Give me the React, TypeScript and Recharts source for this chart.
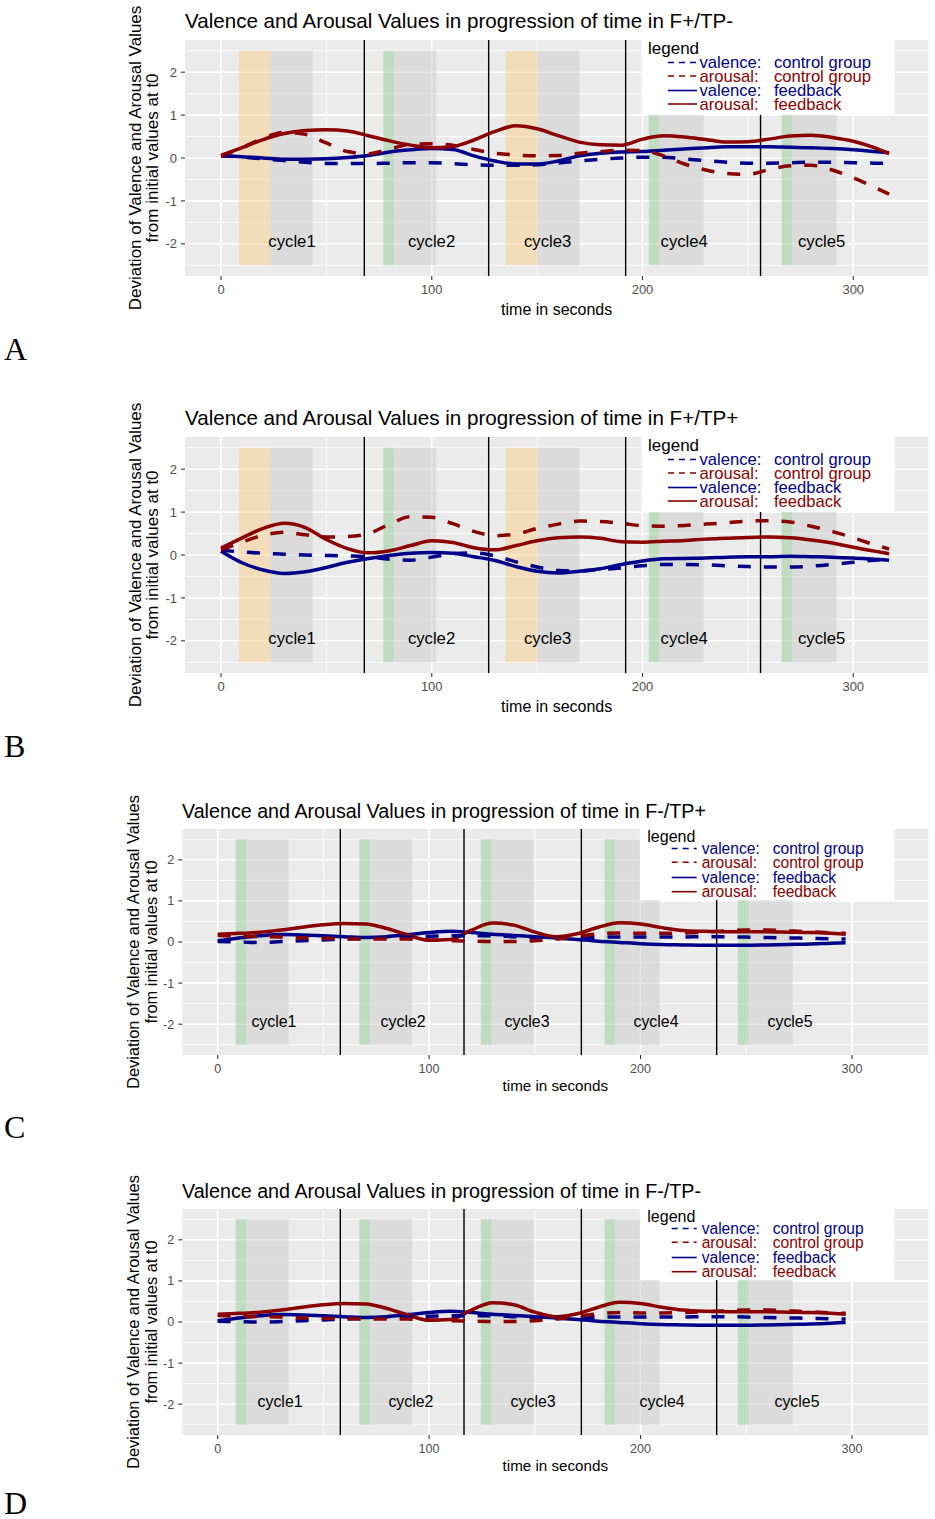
import React from "react";
import {
  ComposedChart,
  Line,
  XAxis,
  YAxis,
  CartesianGrid,
  ReferenceArea,
  ReferenceLine,
  ReferenceDot,
} from "recharts";

const FONT = "'Liberation Sans', Arial, Helvetica, sans-serif";
const SERIF = "'Liberation Serif', 'Times New Roman', serif";
const BLUE = "#00008B";
const RED = "#8B0000";

// ---- time grids (seconds) ----
const timesPlus = [0, 10, 20, 30, 40, 50, 60, 70, 80, 90, 100, 110, 120, 130, 140, 150, 160, 170, 180, 190, 200, 210, 220, 230, 240, 250, 260, 270, 280, 290, 300, 310, 317];
const timesMinus = [0, 10, 20, 30, 40, 50, 60, 70, 80, 90, 100, 110, 120, 130, 140, 150, 160, 170, 180, 190, 200, 210, 220, 230, 240, 250, 260, 270, 280, 290, 297];

// ---- A: F+/TP- ----
const valenceCtrlA = [0.05, 0.02, -0.02, -0.06, -0.1, -0.13, -0.13, -0.13, -0.12, -0.11, -0.11, -0.13, -0.16, -0.17, -0.17, -0.16, -0.12, -0.07, -0.03, 0.0, 0.02, 0.02, -0.02, -0.06, -0.1, -0.12, -0.12, -0.11, -0.1, -0.1, -0.11, -0.12, -0.12];
const arousalCtrlA = [0.05, 0.24, 0.46, 0.6, 0.55, 0.35, 0.15, 0.1, 0.21, 0.32, 0.33, 0.3, 0.2, 0.11, 0.07, 0.05, 0.06, 0.11, 0.15, 0.18, 0.17, 0.05, -0.14, -0.28, -0.36, -0.38, -0.27, -0.18, -0.17, -0.28, -0.46, -0.68, -0.84];
const valenceFbA = [0.05, 0.03, 0.0, -0.03, -0.03, -0.02, 0.01, 0.06, 0.14, 0.19, 0.22, 0.2, 0.05, -0.07, -0.14, -0.14, -0.07, 0.05, 0.11, 0.14, 0.15, 0.18, 0.21, 0.24, 0.26, 0.26, 0.26, 0.25, 0.24, 0.22, 0.19, 0.15, 0.12];
const arousalFbA = [0.06, 0.24, 0.43, 0.57, 0.64, 0.66, 0.63, 0.52, 0.4, 0.3, 0.24, 0.27, 0.42, 0.62, 0.75, 0.68, 0.52, 0.37, 0.31, 0.3, 0.44, 0.52, 0.49, 0.43, 0.37, 0.38, 0.44, 0.51, 0.53, 0.48, 0.39, 0.24, 0.1];

// ---- B: F+/TP+ ----
const valenceCtrlB = [0.11, 0.07, 0.04, 0.02, 0.0, -0.01, -0.02, -0.04, -0.1, -0.12, -0.05, 0.03, 0.05, -0.02, -0.16, -0.28, -0.36, -0.37, -0.34, -0.3, -0.25, -0.22, -0.22, -0.23, -0.25, -0.27, -0.28, -0.28, -0.26, -0.22, -0.17, -0.12, -0.1];
const arousalCtrlB = [0.12, 0.3, 0.46, 0.53, 0.47, 0.42, 0.43, 0.5, 0.72, 0.89, 0.88, 0.73, 0.55, 0.45, 0.49, 0.62, 0.72, 0.79, 0.78, 0.74, 0.68, 0.67, 0.69, 0.72, 0.75, 0.79, 0.8, 0.77, 0.67, 0.55, 0.4, 0.24, 0.14];
const valenceFbB = [0.09, -0.18, -0.35, -0.43, -0.39, -0.29, -0.17, -0.08, -0.01, 0.04, 0.06, 0.04, -0.04, -0.13, -0.27, -0.38, -0.42, -0.38, -0.32, -0.22, -0.14, -0.09, -0.08, -0.07, -0.05, -0.04, -0.04, -0.03, -0.04, -0.05, -0.07, -0.1, -0.12];
const arousalFbB = [0.16, 0.4, 0.62, 0.74, 0.64, 0.36, 0.15, 0.05, 0.1, 0.22, 0.33, 0.29, 0.17, 0.12, 0.22, 0.33, 0.4, 0.42, 0.39, 0.31, 0.3, 0.32, 0.34, 0.37, 0.39, 0.41, 0.42, 0.4, 0.35, 0.28, 0.18, 0.09, 0.03];

// ---- C: F-/TP+ ----
const valenceCtrlC = [0.01, 0.0, -0.01, 0.01, 0.03, 0.05, 0.07, 0.09, 0.1, 0.12, 0.14, 0.15, 0.15, 0.15, 0.13, 0.11, 0.09, 0.09, 0.12, 0.12, 0.12, 0.12, 0.12, 0.13, 0.13, 0.12, 0.11, 0.1, 0.09, 0.08, 0.07];
const arousalCtrlC = [0.16, 0.14, 0.13, 0.12, 0.1, 0.09, 0.08, 0.07, 0.07, 0.07, 0.05, 0.03, 0.02, 0.01, 0.01, 0.03, 0.07, 0.14, 0.2, 0.22, 0.21, 0.21, 0.22, 0.24, 0.27, 0.29, 0.29, 0.27, 0.25, 0.22, 0.21];
const valenceFbC = [0.03, 0.1, 0.15, 0.18, 0.17, 0.15, 0.13, 0.11, 0.13, 0.18, 0.23, 0.26, 0.23, 0.19, 0.16, 0.13, 0.1, 0.06, 0.02, -0.01, -0.04, -0.06, -0.07, -0.08, -0.08, -0.08, -0.07, -0.06, -0.05, -0.03, -0.02];
const arousalFbC = [0.19, 0.21, 0.24, 0.29, 0.36, 0.42, 0.45, 0.44, 0.33, 0.17, 0.04, 0.06, 0.29, 0.46, 0.41, 0.24, 0.13, 0.2, 0.36, 0.47, 0.44, 0.35, 0.28, 0.26, 0.25, 0.25, 0.25, 0.24, 0.23, 0.21, 0.19];

// ---- D: F-/TP- ----
const valenceCtrlD = [0.02, 0.01, 0.0, 0.01, 0.03, 0.05, 0.07, 0.09, 0.1, 0.12, 0.14, 0.15, 0.15, 0.15, 0.13, 0.11, 0.09, 0.09, 0.12, 0.12, 0.12, 0.12, 0.12, 0.13, 0.13, 0.12, 0.11, 0.1, 0.09, 0.08, 0.07];
const arousalCtrlD = [0.16, 0.14, 0.13, 0.12, 0.1, 0.09, 0.08, 0.07, 0.07, 0.07, 0.05, 0.03, 0.02, 0.01, 0.01, 0.03, 0.07, 0.14, 0.2, 0.23, 0.22, 0.22, 0.23, 0.25, 0.27, 0.29, 0.29, 0.27, 0.25, 0.22, 0.21];
const valenceFbD = [0.03, 0.1, 0.15, 0.18, 0.17, 0.15, 0.13, 0.11, 0.13, 0.18, 0.23, 0.26, 0.23, 0.19, 0.16, 0.13, 0.1, 0.06, 0.02, -0.01, -0.04, -0.06, -0.07, -0.08, -0.08, -0.08, -0.07, -0.06, -0.05, -0.03, -0.01];
const arousalFbD = [0.19, 0.21, 0.24, 0.29, 0.36, 0.42, 0.45, 0.44, 0.33, 0.17, 0.04, 0.06, 0.29, 0.47, 0.42, 0.24, 0.13, 0.2, 0.36, 0.48, 0.45, 0.36, 0.29, 0.26, 0.25, 0.25, 0.25, 0.24, 0.23, 0.21, 0.19];

// ---- cycles ----
const cycleNames = ["cycle1", "cycle2", "cycle3", "cycle4", "cycle5"];
const cycleLabelTimesPlus = [33.7, 99.9, 155, 219.8, 285];
const cycleLabelTimesC = [26.6, 87.7, 146.3, 207.3, 270.7];
const cycleLabelTimesD = [29.5, 91.4, 149.2, 210.2, 274];
const cycleLabelLevel = -1.93;
const cycleEndsPlus = [68, 127, 192, 256];
const cycleEndsMinus = [58, 116.5, 172, 236];

type Kind = "orange" | "green" | "grey";
const bandsPlus: [number, number, Kind][] = [
  [8.5, 23.5, "orange"], [23.5, 43.5, "grey"],
  [77, 82, "green"], [82, 102, "grey"],
  [135, 150, "orange"], [150, 170, "grey"],
  [203, 208, "green"], [208, 229, "grey"],
  [266, 271, "green"], [271, 292, "grey"],
];
const bandsMinus: [number, number, Kind][] = [
  [8.5, 13.5, "green"], [13.5, 33.5, "grey"],
  [67, 72, "green"], [72, 92, "grey"],
  [124.5, 129.5, "green"], [129.5, 149.5, "grey"],
  [183, 188, "green"], [188, 209, "grey"],
  [246, 251, "green"], [251, 272, "grey"],
];
const bandLevels = [-2.5, 2.5];

// ---- axes ----
const xTicks = [0, 100, 200, 300];
const xMinor = [50, 150, 250];
const yTicks = [-2, -1, 0, 1, 2];
const yMinor = [-2.5, -1.5, -0.5, 0.5, 1.5, 2.5];

// ---- legend ----
const seriesKeys = ["vc", "ac", "vf", "af"];
const legendMeasure = ["valence:", "arousal:", "valence:", "arousal:"];
const legendGroup = ["control group", "control group", "feedback", "feedback"];

const BAND_FILL: Record<Kind, string> = {
  orange: "rgb(250,206,136)",
  green: "rgb(150,206,150)",
  grey: "rgb(203,203,203)",
};
const SERIES_STYLE: Record<string, { color: string; dashed: boolean }> = {
  vc: { color: BLUE, dashed: true },
  ac: { color: RED, dashed: true },
  vf: { color: BLUE, dashed: false },
  af: { color: RED, dashed: false },
};

type Geo = {
  left: number;
  right: number;
  plotH: number;
  xDomain: [number, number];
  titleX: number;
  titleY: number;
  titleSize: number;
  yTitleX: [number, number];
  yTitleSize: number;
  xTitleY: number;
  xTitleSize: number;
  tickSize: number;
  cycleSize: number;
  legendBox: [number, number, number, number];
  legendTitleX: number;
  legendRowsY: number[];
  keyX: [number, number];
  textX: [number, number];
  legendSize: number;
  letterY: number;
};

const geoPlus: Geo = {
  left: 185,
  right: 928.3,
  plotH: 236,
  xDomain: [-17.08, 335.6],
  titleX: 185,
  titleY: 27.5,
  titleSize: 20.6,
  yTitleX: [140.5, 158.3],
  yTitleSize: 17,
  xTitleY: 315,
  xTitleSize: 16,
  tickSize: 13,
  cycleSize: 16.7,
  legendBox: [641.7, 40, 253.3, 75],
  legendTitleX: 648,
  legendRowsY: [48.5, 62.5, 76, 90.5, 104],
  keyX: [668, 697],
  textX: [699.5, 774],
  legendSize: 16.6,
  letterY: 360,
};

const geoMinus: Geo = {
  left: 182.3,
  right: 928.3,
  plotH: 226,
  xDomain: [-16.74, 336.1],
  titleX: 182,
  titleY: 28.5,
  titleSize: 19.7,
  yTitleX: [139.3, 157.3],
  yTitleSize: 16.4,
  xTitleY: 302,
  xTitleSize: 15.2,
  tickSize: 12.6,
  cycleSize: 15.9,
  legendBox: [640, 40, 254.3, 71],
  legendTitleX: 647.3,
  legendRowsY: [47, 59.5, 73.3, 88.5, 102.7],
  keyX: [671.7, 696.7],
  textX: [701.7, 772.7],
  legendSize: 15.6,
  letterY: 349,
};

type Series = { vc: number[]; ac: number[]; vf: number[]; af: number[] };

function Panel(props: {
  top: number;
  letter: string;
  title: string;
  times: number[];
  series: Series;
  bands: [number, number, Kind][];
  ends: number[];
  labelTimes: number[];
  g: Geo;
  letterY?: number;
}) {
  const { top, letter, title, times, series, bands, ends, labelTimes, g } = props;
  const rows = times.map((t, i) => ({
    t,
    vc: series.vc[i],
    ac: series.ac[i],
    vf: series.vf[i],
    af: series.af[i],
  }));
  const chartH = 330;
  const yAxisW = 45;
  const xAxisH = 30;
  const plotMid = 40 + g.plotH / 2;
  const plotCx = (g.left + g.right) / 2;
  const lineOrder = ["vf", "af", "vc", "ac"];

  return (
    <div style={{ position: "absolute", left: 0, top, width: 935, height: 380 }}>
      <ComposedChart
        width={935}
        height={chartH}
        data={rows}
        margin={{ top: 40, right: 935 - g.right, left: g.left - yAxisW, bottom: chartH - 40 - g.plotH - xAxisH }}
      >
        <CartesianGrid
          fill="#EBEBEB"
          stroke="#FFFFFF"
          strokeWidth={0.8}
          horizontalValues={yMinor}
          verticalValues={xMinor}
          syncWithTicks={false}
        />
        <CartesianGrid
          stroke="#FFFFFF"
          strokeWidth={1.6}
          horizontalValues={yTicks}
          verticalValues={xTicks}
          syncWithTicks={false}
        />
        <XAxis
          dataKey="t"
          type="number"
          domain={g.xDomain}
          allowDataOverflow
          ticks={xTicks}
          height={xAxisH}
          axisLine={false}
          tickSize={4}
          tickMargin={5}
          tickLine={{ stroke: "#333333", strokeWidth: 1.1 }}
          tick={{ fill: "#4D4D4D", fontSize: g.tickSize, fontFamily: FONT }}
        />
        <YAxis
          type="number"
          domain={[-2.75, 2.75]}
          allowDataOverflow
          ticks={yTicks}
          width={yAxisW}
          axisLine={false}
          tickSize={4}
          tickMargin={4}
          tickLine={{ stroke: "#333333", strokeWidth: 1.1 }}
          tick={{ fill: "#4D4D4D", fontSize: g.tickSize, fontFamily: FONT }}
        />
        {bands.map(([x1, x2, kind], i) => (
          <ReferenceArea
            key={"b" + i}
            x1={x1}
            x2={x2}
            y1={bandLevels[0]}
            y2={bandLevels[1]}
            fill={BAND_FILL[kind]}
            fillOpacity={0.5}
            stroke="none"
          />
        ))}
        {ends.map((x, i) => (
          <ReferenceLine key={"e" + i} x={x} stroke="#000000" strokeWidth={1.4} />
        ))}
        {labelTimes.map((x, i) => (
          <ReferenceDot
            key={"c" + i}
            x={x}
            y={cycleLabelLevel}
            r={0}
            fill="none"
            stroke="none"
            label={{ value: cycleNames[i], position: "center", fill: "#000000", fontSize: g.cycleSize, fontFamily: FONT }}
          />
        ))}
        {lineOrder.map((k) => (
          <Line
            key={k}
            dataKey={k}
            type="monotone"
            stroke={SERIES_STYLE[k].color}
            strokeWidth={3.5}
            strokeDasharray={SERIES_STYLE[k].dashed ? "13 13" : undefined}
            dot={false}
            activeDot={false}
            isAnimationActive={false}
          />
        ))}
      </ComposedChart>
      <svg
        width={935}
        height={380}
        style={{ position: "absolute", left: 0, top: 0, pointerEvents: "none" }}
        fontFamily={FONT}
      >
        <text x={g.titleX} y={g.titleY} fontSize={g.titleSize} fill="#000">
          {title}
        </text>
        <text
          transform={`translate(${g.yTitleX[0]},${plotMid}) rotate(-90)`}
          textAnchor="middle"
          fontSize={g.yTitleSize}
          fill="#000"
        >
          Deviation of Valence and Arousal Values
        </text>
        <text
          transform={`translate(${g.yTitleX[1]},${plotMid}) rotate(-90)`}
          textAnchor="middle"
          fontSize={g.yTitleSize}
          fill="#000"
        >
          from initial values at t0
        </text>
        <text x={plotCx} y={g.xTitleY} textAnchor="middle" fontSize={g.xTitleSize} fill="#000">
          time in seconds
        </text>
        <text x={4} y={props.letterY ?? g.letterY} fontSize={32} fontFamily={SERIF} fill="#000">
          {letter}
        </text>
        <rect
          x={g.legendBox[0]}
          y={g.legendBox[1]}
          width={g.legendBox[2]}
          height={g.legendBox[3]}
          fill="#FFFFFF"
        />
        <text
          x={g.legendTitleX}
          y={g.legendRowsY[0] + g.legendSize * 0.36}
          fontSize={g.legendSize + 0.4}
          fill="#000"
        >
          legend
        </text>
        {seriesKeys.map((k, i) => {
          const cy = g.legendRowsY[i + 1];
          const st = SERIES_STYLE[k];
          return (
            <g key={k}>
              <line
                x1={g.keyX[0]}
                x2={g.keyX[1]}
                y1={cy}
                y2={cy}
                stroke={st.color}
                strokeWidth={1.6}
                strokeDasharray={st.dashed ? "6 5" : undefined}
              />
              <text x={g.textX[0]} y={cy + g.legendSize * 0.36} fontSize={g.legendSize} fill={st.color}>
                {legendMeasure[i]}
              </text>
              <text x={g.textX[1]} y={cy + g.legendSize * 0.36} fontSize={g.legendSize} fill={st.color}>
                {legendGroup[i]}
              </text>
            </g>
          );
        })}
      </svg>
    </div>
  );
}

export default function App() {
  return (
    <div style={{ position: "absolute", left: 0, top: 0, width: 935, height: 1519, background: "#FFFFFF" }}>
      <Panel
        top={0}
        letter="A"
        title="Valence and Arousal Values in progression of time in F+/TP-"
        times={timesPlus}
        series={{ vc: valenceCtrlA, ac: arousalCtrlA, vf: valenceFbA, af: arousalFbA }}
        bands={bandsPlus}
        ends={cycleEndsPlus}
        labelTimes={cycleLabelTimesPlus}
        g={geoPlus}
      />
      <Panel
        top={397.3}
        letter="B"
        title="Valence and Arousal Values in progression of time in F+/TP+"
        times={timesPlus}
        series={{ vc: valenceCtrlB, ac: arousalCtrlB, vf: valenceFbB, af: arousalFbB }}
        bands={bandsPlus}
        ends={cycleEndsPlus}
        labelTimes={cycleLabelTimesPlus}
        g={geoPlus}
      />
      <Panel
        top={789}
        letter="C"
        title="Valence and Arousal Values in progression of time in F-/TP+"
        times={timesMinus}
        series={{ vc: valenceCtrlC, ac: arousalCtrlC, vf: valenceFbC, af: arousalFbC }}
        bands={bandsMinus}
        ends={cycleEndsMinus}
        labelTimes={cycleLabelTimesC}
        g={geoMinus}
      />
      <Panel
        top={1169}
        letter="D"
        title="Valence and Arousal Values in progression of time in F-/TP-"
        times={timesMinus}
        series={{ vc: valenceCtrlD, ac: arousalCtrlD, vf: valenceFbD, af: arousalFbD }}
        bands={bandsMinus}
        ends={cycleEndsMinus}
        labelTimes={cycleLabelTimesD}
        g={geoMinus}
        letterY={345}
      />
    </div>
  );
}
